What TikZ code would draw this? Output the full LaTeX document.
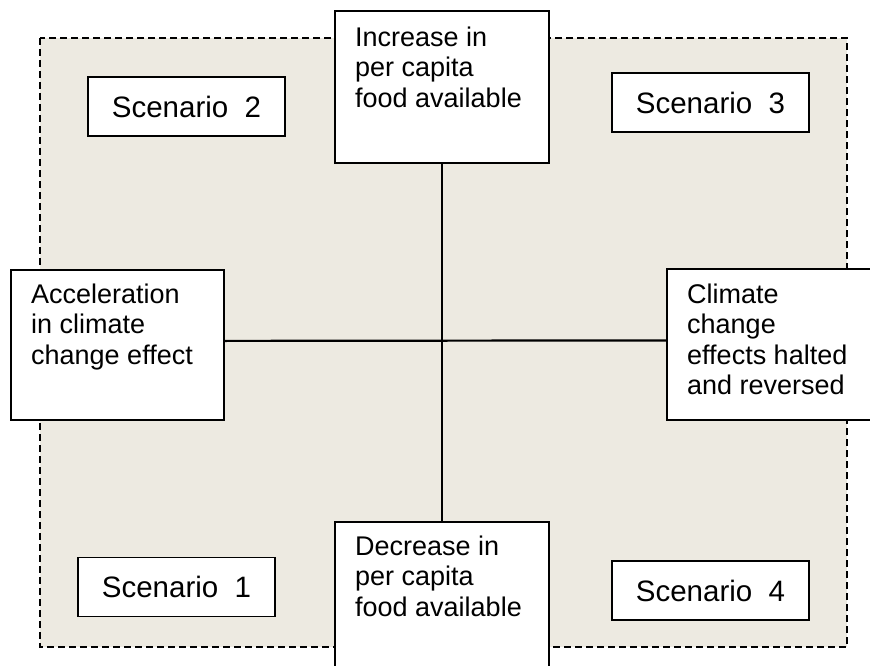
\documentclass[tikz,border=0pt]{standalone}
\usepackage{fontspec}
\setmainfont{Liberation Sans}
\definecolor{bgbeige}{RGB}{237,234,225}
\begin{document}
\begin{tikzpicture}[x=1pt,y=-1pt,
  frame/.style={draw=black, line width=1.8pt, dash pattern=on 7pt off 4pt, fill=bgbeige},
  bigbox/.style={draw=black, line width=1.8pt, fill=white, anchor=north west, inner sep=0pt},
  boxtext/.style={anchor=north west, inner sep=0pt, align=left, font=\fontsize{27}{30.5}\selectfont},
  scen/.style={draw=black, line width=1.8pt, fill=white, minimum width=197pt, minimum height=59pt, inner sep=0pt, font=\fontsize{29.5}{34}\selectfont},
  axis/.style={draw=black, line width=2.2pt}
]
\useasboundingbox (0,0) rectangle (870,666);
\clip (0,0) rectangle (870,666);
% dashed background frame
\draw[frame] (40,38) rectangle (847,647);

% axis end boxes
\node[bigbox, minimum width=214pt, minimum height=152pt] (top) at (334,10) {};
\node[bigbox, minimum width=214pt, minimum height=170pt] (bottom) at (334,521) {};
\node[bigbox, minimum width=213pt, minimum height=150pt] (left) at (10,269) {};
\node[bigbox, minimum width=230pt, minimum height=151pt] (right) at (666,268) {};

% axes
\draw[axis] (top.south) -- (bottom.north);
\draw[axis] ([yshift=4pt]left.east) -- ([yshift=4pt]right.west);

% box texts
\node[boxtext] (toptext) at (355,25) {\rule{0pt}{21pt}Increase in\\per capita\\food available};
\node[boxtext] (bottomtext) at (355,534) {\rule{0pt}{21pt}Decrease in\\per capita\\food available};
\node[boxtext] (lefttext) at (31,282) {\rule{0pt}{21pt}Acceleration\\in climate\\change effect};
\node[boxtext] (righttext) at (687,282) {\rule{0pt}{21pt}Climate\\change\\effects halted\\and reversed};

% scenario boxes
\node[scen] (s2) at (186.5,106.5) {Scenario\ \ 2};
\node[scen] (s3) at (710.5,102.5) {Scenario\ \ 3};
\node[scen] (s1) at (176.5,587) {Scenario\ \ 1};
\node[scen] (s4) at (710.5,590.5) {Scenario\ \ 4};
\end{tikzpicture}
\end{document}
